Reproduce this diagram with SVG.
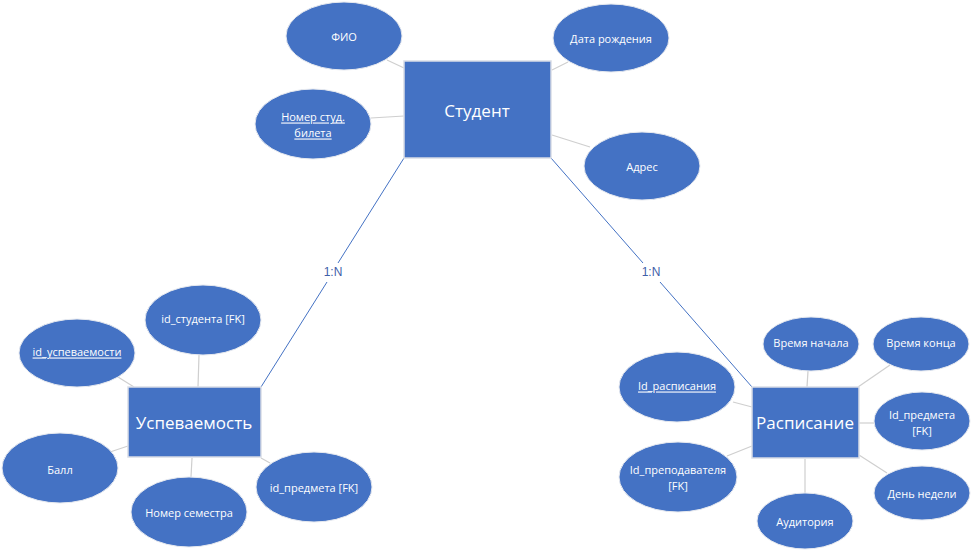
<svg xmlns="http://www.w3.org/2000/svg" width="971" height="550" viewBox="0 0 971 550">
<style>
.ent{fill:#4472C4;stroke:#d9dde6;stroke-width:1.5}
.att{fill:#4472C4;stroke:#e6e9ef;stroke-width:1}
.t{font-family:"Open Sans","Liberation Sans",sans-serif;fill:#fff;text-anchor:middle;dominant-baseline:central}
.s{font-size:11px}
.b{font-size:17px}
.u{text-decoration:underline}
.al{stroke:#cfcfcf;stroke-width:1.2;fill:none}
.rl{stroke:#4472C4;stroke-width:1;fill:none}
.lbl{font-family:"Liberation Sans",Arial,sans-serif;font-size:12px;fill:#3f5fa8;text-anchor:middle;dominant-baseline:central}
</style>
<rect width="971" height="550" fill="#fff"/>
<g id="connectors">
<line class="al" x1="387" y1="60" x2="404" y2="68"/>
<line class="al" x1="552" y1="70" x2="568" y2="62"/>
<line class="al" x1="371" y1="118" x2="404" y2="116"/>
<line class="al" x1="552" y1="135" x2="590" y2="147"/>
<line class="al" x1="199" y1="355" x2="198" y2="387"/>
<line class="al" x1="118" y1="377" x2="134" y2="387"/>
<line class="al" x1="110" y1="452" x2="128" y2="446"/>
<line class="al" x1="192" y1="458" x2="191" y2="477"/>
<line class="al" x1="261" y1="458" x2="270" y2="463"/>
<line class="al" x1="808" y1="371" x2="807" y2="387"/>
<line class="al" x1="890" y1="365" x2="858" y2="387"/>
<line class="al" x1="733" y1="402" x2="752" y2="407"/>
<line class="al" x1="859" y1="423" x2="874" y2="423"/>
<line class="al" x1="727" y1="456" x2="752" y2="446"/>
<line class="al" x1="859" y1="455" x2="887" y2="473"/>
<line class="al" x1="805" y1="459" x2="805" y2="494"/>
<line class="rl" x1="404" y1="158" x2="338" y2="263"/>
<line class="rl" x1="327" y1="282" x2="261" y2="387"/>
<line class="rl" x1="551" y1="158" x2="643" y2="263"/>
<line class="rl" x1="660" y1="282" x2="752" y2="387"/>
<text class="lbl" x="333" y="272">1:N</text>
<text class="lbl" x="651" y="272">1:N</text>
</g>
<g id="student">
<rect class="ent" x="404" y="61" width="147" height="97"/>
<text class="t b" x="477" y="110">Студент</text>
</g>
<g id="fio">
<ellipse class="att" cx="344" cy="36" rx="58" ry="34"/>
<text class="t s" x="344" y="36">ФИО</text>
</g>
<g id="birth">
<ellipse class="att" cx="611" cy="38" rx="58" ry="34"/>
<text class="t s" x="611" y="38">Дата рождения</text>
</g>
<g id="studnum">
<ellipse class="att" cx="313" cy="124" rx="58" ry="35"/>
<text class="t s u" x="313" y="116">Номер студ.</text>
<text class="t s u" x="313" y="132">билета</text>
</g>
<g id="address">
<ellipse class="att" cx="642" cy="166" rx="58" ry="34"/>
<text class="t s" x="642" y="166">Адрес</text>
</g>
<g id="uspev">
<rect class="ent" x="128" y="387" width="133" height="70"/>
<text class="t b" x="194" y="422">Успеваемость</text>
</g>
<g id="id_student">
<ellipse class="att" cx="203" cy="320" rx="58" ry="35"/>
<text class="t s" x="203" y="318">id_студента [FK]</text>
</g>
<g id="id_uspev">
<ellipse class="att" cx="77" cy="353" rx="58" ry="34"/>
<text class="t s u" x="77" y="351">id_успеваемости</text>
</g>
<g id="ball">
<ellipse class="att" cx="60" cy="468" rx="58" ry="35"/>
<text class="t s" x="60" y="469">Балл</text>
</g>
<g id="semester">
<ellipse class="att" cx="189" cy="512" rx="58" ry="35"/>
<text class="t s" x="189" y="512">Номер семестра</text>
</g>
<g id="id_subject1">
<ellipse class="att" cx="314" cy="487" rx="58" ry="35"/>
<text class="t s" x="314" y="487">id_предмета [FK]</text>
</g>
<g id="schedule">
<rect class="ent" x="752" y="387" width="107" height="71"/>
<text class="t b" x="805" y="422">Расписание</text>
</g>
<g id="start">
<ellipse class="att" cx="811" cy="344" rx="48" ry="27"/>
<text class="t s" x="811" y="342">Время начала</text>
</g>
<g id="end">
<ellipse class="att" cx="921" cy="344" rx="48" ry="27"/>
<text class="t s" x="921" y="342">Время конца</text>
</g>
<g id="id_schedule">
<ellipse class="att" cx="677" cy="387" rx="58" ry="35"/>
<text class="t s u" x="677" y="385">Id_расписания</text>
</g>
<g id="id_subject2">
<ellipse class="att" cx="922" cy="421" rx="48" ry="29"/>
<text class="t s" x="922" y="414">Id_предмета</text>
<text class="t s" x="922" y="430">[FK]</text>
</g>
<g id="id_teacher">
<ellipse class="att" cx="678" cy="477" rx="59" ry="35"/>
<text class="t s" x="678" y="469">Id_преподавателя</text>
<text class="t s" x="678" y="485">[FK]</text>
</g>
<g id="weekday">
<ellipse class="att" cx="922" cy="493" rx="48" ry="27"/>
<text class="t s" x="922" y="493">День недели</text>
</g>
<g id="room">
<ellipse class="att" cx="805" cy="521" rx="48" ry="28"/>
<text class="t s" x="805" y="521">Аудитория</text>
</g>
</svg>
